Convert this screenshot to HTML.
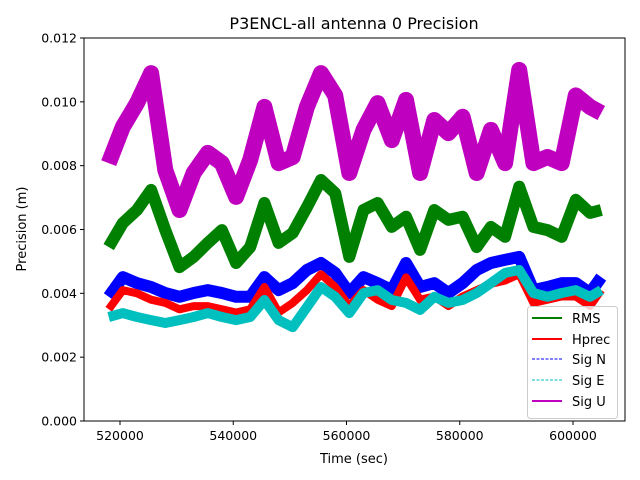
<!DOCTYPE html>
<html><head><meta charset="utf-8"><style>
body{margin:0;background:#fff}
svg{display:block;font-family:"DejaVu Sans","Liberation Sans",sans-serif}
</style></head><body>
<svg id="chart" width="640" height="480">
<rect width="640" height="480" fill="#fff"/>
<text x="354" y="29" text-anchor="middle" font-size="16">P3ENCL-all antenna 0 Precision</text>
<g id="plot"></g>
<g id="axes"></g>
<text x="354" y="463" text-anchor="middle" font-size="13">Time (sec)</text>
<text transform="translate(26,229) rotate(-90)" text-anchor="middle" font-size="13">Precision (m)</text>
<g>
<rect x="527.5" y="306.5" width="90" height="112" rx="3" fill="#fff" fill-opacity="0.8" stroke="#ccc"/>
<g><line x1="532" y1="318" x2="562" y2="318" stroke="#008000" stroke-width="2"/><text x="572" y="323" font-size="13">RMS</text></g>
<g><line x1="532" y1="339" x2="562" y2="339" stroke="#f00" stroke-width="2"/><text x="572" y="344" font-size="13">Hprec</text></g>
<g><line x1="532" y1="359" x2="562" y2="359" stroke="#0000ff" stroke-width="1" stroke-dasharray="3,1.5"/><text x="572" y="364" font-size="13">Sig N</text></g>
<g><line x1="532" y1="380" x2="562" y2="380" stroke="#00bfbf" stroke-width="1" stroke-dasharray="3,1.5"/><text x="572" y="385" font-size="13">Sig E</text></g>
<g><line x1="532" y1="401" x2="562" y2="401" stroke="#bf00bf" stroke-width="2"/><text x="572" y="406" font-size="13">Sig U</text></g>
</g>
</svg>
<script>
const times=[518000,520500,523000,525500,528000,530500,533000,535500,538000,540500,543000,545500,548000,550500,553000,555500,558000,560500,563000,565500,568000,570500,573000,575500,578000,580500,583000,585500,588000,590500,593000,595500,598000,600500,603000,605000];
const sigU=[0.00808,0.00921,0.00996,0.0109,0.00786,0.00661,0.00777,0.0084,0.00808,0.00702,0.00818,0.00984,0.00808,0.00827,0.00984,0.0109,0.0102,0.00777,0.00912,0.00996,0.0088,0.01006,0.00777,0.00943,0.00902,0.00953,0.00777,0.00912,0.00808,0.0110,0.00808,0.00827,0.00808,0.0102,0.00984,0.00965];
const rms=[0.00545,0.0062,0.00661,0.00724,0.00598,0.00482,0.00514,0.00558,0.00598,0.00495,0.00545,0.00683,0.00558,0.00589,0.0067,0.00755,0.00714,0.00514,0.00661,0.00683,0.00608,0.0064,0.00536,0.00661,0.0063,0.0064,0.00545,0.00608,0.00577,0.00734,0.00608,0.00598,0.00577,0.00693,0.00652,0.00661];
const sigN=[0.00389,0.00451,0.00432,0.0042,0.00401,0.00389,0.00401,0.0041,0.00401,0.00389,0.00389,0.00451,0.0041,0.00432,0.00473,0.00495,0.00464,0.00401,0.00451,0.00432,0.0041,0.00495,0.0042,0.00432,0.00401,0.00432,0.00473,0.00495,0.00505,0.00514,0.0041,0.0042,0.00432,0.00432,0.00401,0.00451];
const hprec=[0.0035,0.0041,0.0040,0.0038,0.0037,0.0035,0.0036,0.0036,0.0035,0.0034,0.0035,0.0042,0.0034,0.0037,0.0041,0.0046,0.0042,0.0036,0.0041,0.0038,0.0036,0.0045,0.0038,0.0039,0.0036,0.0039,0.0041,0.0043,0.0044,0.0046,0.0037,0.0038,0.0039,0.0039,0.0036,0.0041];
const sigE=[0.00326,0.00338,0.00326,0.00316,0.00307,0.00316,0.00326,0.00338,0.00326,0.00316,0.00326,0.00379,0.00316,0.00294,0.00357,0.0042,0.00389,0.00338,0.00401,0.0041,0.00379,0.0037,0.00348,0.00389,0.0037,0.00379,0.00401,0.00432,0.00464,0.00473,0.00401,0.00389,0.00401,0.0041,0.00389,0.0041];
const xTicks=[520000,540000,560000,580000,600000];
const yTicks=[0,0.002,0.004,0.006,0.008,0.010,0.012];
const yTickLabels=["0.000","0.002","0.004","0.006","0.008","0.010","0.012"];

const L=84,R=625,T=38,B=421;
function xs(t){return 120+(t-520000)*(453/80000);}
function ys(v){return B-(v/0.012)*(B-T);}
const NS="http://www.w3.org/2000/svg";
const plot=document.getElementById('plot');
const axes=document.getElementById('axes');
function series(vals,color,w,name){
  const p=document.createElementNS(NS,'polyline');
  p.setAttribute('points',vals.map((v,i)=>xs(times[i]).toFixed(1)+','+ys(v).toFixed(1)).join(' '));
  p.setAttribute('fill','none');p.setAttribute('stroke',color);p.setAttribute('stroke-width',w);
  p.setAttribute('stroke-linejoin','round');p.setAttribute('stroke-linecap','butt');
  
  
  plot.appendChild(p);
}
series(rms,'#008000',12,'rms-series');
series(sigN,'#0000ff',12,'sig-n-series');
series(hprec,'#ff0000',8,'hprec-series');
series(sigE,'#00bfbf',10,'sig-e-series');
series(sigU,'#bf00bf',16,'sig-u-series');
const frame=document.createElementNS(NS,'rect');
frame.setAttribute('x',L);frame.setAttribute('y',T);frame.setAttribute('width',R-L);frame.setAttribute('height',B-T);
frame.setAttribute('fill','none');frame.setAttribute('stroke','#000');frame.setAttribute('stroke-width','1');


axes.appendChild(frame);
xTicks.forEach(t=>{
  const x=xs(t);
  const l=document.createElementNS(NS,'line');
  l.setAttribute('x1',x);l.setAttribute('x2',x);l.setAttribute('y1',B);l.setAttribute('y2',B+4);l.setAttribute('stroke','#000');
  
  
  axes.appendChild(l);
  const tx=document.createElementNS(NS,'text');
  tx.setAttribute('x',x);tx.setAttribute('y',B+19);tx.setAttribute('text-anchor','middle');tx.setAttribute('font-size','12.5');
  tx.textContent=String(t);
  
  
  axes.appendChild(tx);
});
yTicks.forEach((v,i)=>{
  const y=ys(v);
  const l=document.createElementNS(NS,'line');
  l.setAttribute('x1',L-4);l.setAttribute('x2',L);l.setAttribute('y1',y);l.setAttribute('y2',y);l.setAttribute('stroke','#000');
  
  
  axes.appendChild(l);
  const tx=document.createElementNS(NS,'text');
  tx.setAttribute('x',L-7);tx.setAttribute('y',y+4.5);tx.setAttribute('text-anchor','end');tx.setAttribute('font-size','12.5');
  tx.textContent=yTickLabels[i];
  
  
  axes.appendChild(tx);
});
</script>
</body></html>
